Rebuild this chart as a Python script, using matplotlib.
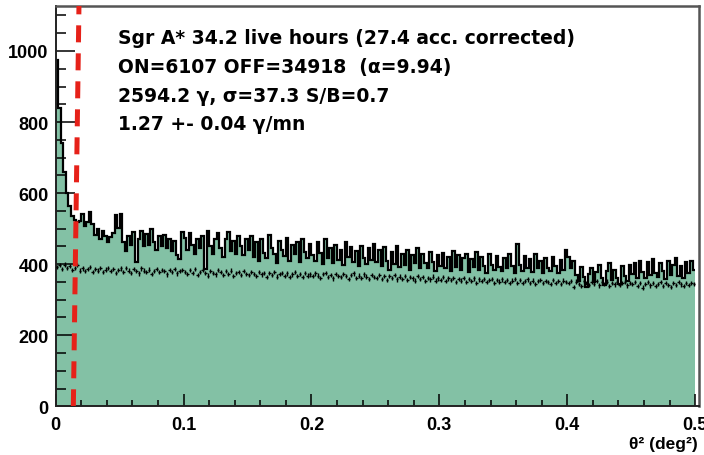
import numpy as np
import matplotlib
matplotlib.use("Agg")
import matplotlib.pyplot as plt

# theta^2 distribution, bins of 0.002 deg^2 from 0 to 0.5
bin_width = 0.002
on_counts = [
    975, 840, 740, 660, 600, 565, 535, 525, 518, 522, 540, 508, 520, 548, 512, 482, 500, 470, 492, 478, 462, 476, 488, 538, 502,
    540, 462, 438, 478, 455, 490, 405, 470, 492, 450, 485, 455, 498, 462, 440, 478, 452, 482, 445, 472, 438, 466, 425, 414, 490,
    475, 440, 488, 455, 430, 470, 445, 480, 386, 492, 452, 428, 470, 488, 445, 420, 472, 490, 438, 466, 430, 478, 450, 425, 470,
    440, 478, 420, 462, 408, 470, 432, 418, 482, 445, 428, 402, 465, 440, 422, 475, 410, 455, 430, 462, 405, 470, 435, 418, 458,
    425, 408, 462, 432, 400, 470, 418, 445, 402, 455, 412, 440, 398, 462, 420, 448, 405, 438, 395, 452, 418, 400, 445, 412, 458,
    405, 440, 395, 448, 410, 385, 435, 400, 450, 392, 428, 398, 440, 385, 425, 402, 445, 390, 430, 402, 388, 435, 405, 380, 425,
    395, 432, 388, 420, 380, 438, 392, 425, 385, 418, 430, 378, 415, 392, 435, 385, 420, 395, 375, 428, 398, 385, 422, 392, 382,
    418, 390, 428, 395, 375, 456, 398, 382, 422, 390, 415, 378, 428, 388, 410, 375, 418, 390, 380, 420, 395, 375, 412, 385, 440,
    420, 388, 408, 370, 352, 392, 365, 335, 372, 388, 350, 378, 398, 360, 340, 382, 402, 355, 385, 362, 345, 395, 368, 352, 398,
    372, 402, 362, 410, 378, 360, 405, 370, 415, 375, 365, 402, 380, 358, 408, 370, 398, 418, 368, 395, 360, 405, 375, 410, 385,
]
off_counts = [
    392, 397, 386, 399, 390, 394, 383, 389, 397, 382, 388, 380, 387, 392, 378, 386, 382, 390, 377, 385, 389, 380, 387, 375, 384,
    388, 378, 390, 382, 376, 386, 380, 374, 388, 382, 377, 385, 373, 381, 387, 377, 384, 380, 371, 383, 377, 386, 374, 380, 384,
    379, 372, 383, 376, 386, 370, 379, 384, 375, 368, 381, 375, 371, 383, 377, 369, 380, 373, 382, 367, 376, 379, 370, 381, 373,
    370, 378, 372, 366, 379, 371, 376, 364, 375, 369, 378, 365, 372, 376, 367, 374, 364, 371, 377, 366, 373, 363, 375, 368, 371,
    366, 374, 368, 362, 372, 376, 364, 370, 360, 373, 367, 363, 372, 366, 359, 370, 374, 362, 368, 361, 371, 365, 358, 369, 364,
    362, 370, 359, 367, 356, 366, 361, 369, 357, 365, 359, 367, 355, 364, 360, 354, 366, 358, 363, 353, 362, 357, 365, 354, 360,
    356, 363, 352, 360, 355, 362, 350, 359, 354, 361, 349, 358, 353, 360, 348, 357, 352, 359, 349, 355, 358, 348, 355, 351, 357,
    350, 356, 347, 354, 358, 348, 355, 346, 353, 357, 347, 354, 345, 352, 356, 346, 353, 349, 344, 355, 348, 352, 345, 354, 349,
    348, 353, 336, 351, 345, 338, 352, 346, 341, 350, 344, 352, 340, 349, 345, 351, 339, 348, 343, 350, 341, 346, 349, 340, 348,
    344, 350, 339, 348, 334, 344, 349, 340, 347, 338, 345, 350, 339, 348, 342, 336, 347, 341, 349, 343, 338, 347, 342, 348, 344,
]
off_err = 6.0
cut_line = [0.0138, 0.0182]  # theta^2 cut (drawn slightly tilted in the original)

info_lines = [
    "Sgr A* 34.2 live hours (27.4 acc. corrected)",
    "ON=6107 OFF=34918  (\u03b1=9.94)",
    "2594.2 \u03b3, \u03c3=37.3 S/B=0.7",
    "1.27 +- 0.04 \u03b3/mn",
]

plt.rcParams['font.family'] = ['Liberation Sans', 'DejaVu Sans']
plt.rcParams['font.weight'] = 'bold'

on = np.array(on_counts)
off = np.array(off_counts)
edges = np.arange(len(on) + 1) * bin_width
centers = 0.5 * (edges[:-1] + edges[1:])

fig = plt.figure(figsize=(7.04, 4.56), dpi=100)
ax = fig.add_axes([0.0791, 0.1068, 0.9138, 0.8789])

ax.stairs(on, edges, fill=True, color='#83C1A5', zorder=1)
ax.stairs(on, edges, baseline=None, color='black', lw=1.6, zorder=2)
ax.errorbar(centers, off, yerr=off_err, xerr=bin_width / 2, fmt='none',
            ecolor='black', elinewidth=1.0, zorder=3)

ymax = 1128
ax.plot(cut_line, [0, ymax], color='#E62119', lw=3.6,
        linestyle=(0, (3.4, 2.2)), zorder=4, solid_capstyle='butt')

ax.set_xlim(0, 0.503)
ax.set_ylim(0, ymax)
ax.set_xticks([0, 0.1, 0.2, 0.3, 0.4, 0.5])
ax.set_xticklabels(['0', '0.1', '0.2', '0.3', '0.4', '0.5'])
ax.set_xticks(np.arange(0, 0.503, 0.02), minor=True)
ax.set_yticks([0, 200, 400, 600, 800, 1000])
ax.set_yticks(np.arange(0, 1128, 50), minor=True)

ax.tick_params(axis='both', which='both', direction='in', top=False, right=False,
               labelsize=13, width=1.1, color='black')
ax.tick_params(axis='y', which='major', length=14, pad=5)
ax.tick_params(axis='y', which='minor', length=7)
ax.tick_params(axis='x', which='major', length=9, pad=7)
ax.tick_params(axis='x', which='minor', length=4)

for side in ['left', 'bottom']:
    ax.spines[side].set_color('#222222')
    ax.spines[side].set_linewidth(1.4)
for side in ['top', 'right']:
    ax.spines[side].set_color('#555555')
    ax.spines[side].set_linewidth(1.8)

fig.text(0.991, 1 - 445 / 456, '\u03b8\u00b2 (deg\u00b2)', ha='right', va='center', fontsize=12.5)

for i, line in enumerate(info_lines):
    fig.text(118 / 704, 1 - (38 + 29 * i) / 456, line, ha='left', va='center',
             fontsize=13.5, fontweight='bold', family=['DejaVu Sans'])

fig.savefig('out.png', dpi=100)
